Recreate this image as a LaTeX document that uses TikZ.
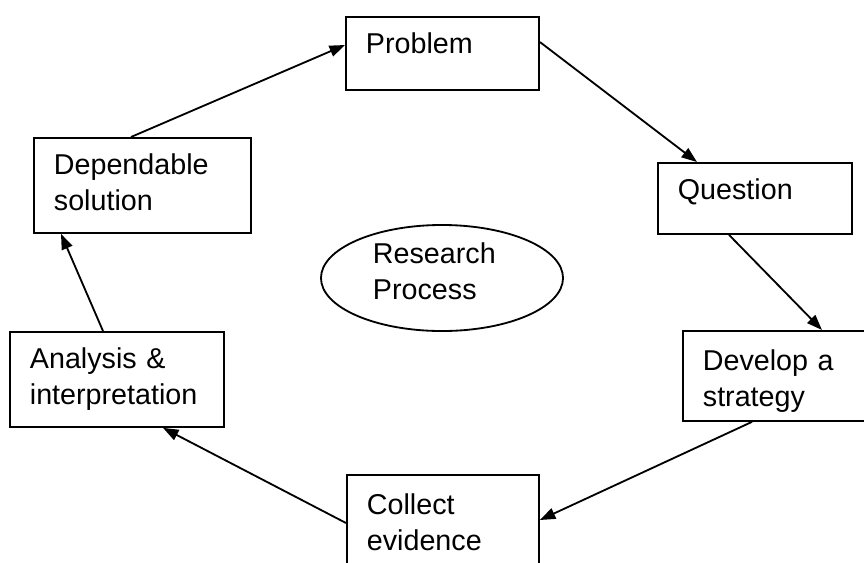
\documentclass[tikz,border=0pt]{standalone}
\usepackage{fontspec}
\setmainfont{Liberation Sans}
\usetikzlibrary{shapes.geometric, arrows.meta, calc}

\begin{document}
\begin{tikzpicture}[x=0.025cm, y=-0.025cm, >={Triangle[length=11pt,width=8pt]}]

        % Define block styles
        \tikzset{stage/.style 2 args={rectangle, draw, line width=1.3pt, anchor=north west, align=left, inner xsep=0.5cm, inner ysep=0pt, text width=#1, text height=0.925cm, text depth=#2, font=\fontsize{20.4}{25.6}\selectfont}}
        \tikzstyle{hub} = [ellipse, draw, line width=1.3pt, minimum width=6.05cm, minimum height=2.65cm, inner sep=0pt, align=left, text width=3.45cm, text height=0.5cm, text depth=1.25cm, font=\fontsize{20.4}{25.6}\selectfont]
        \tikzstyle{arrow} = [line width=1.3pt,->]

        \useasboundingbox (0,0) rectangle (864,562);
        \clip (0,0) rectangle (864,562);

        % Stages
        \node (prob) [stage={3.825cm}{0.9cm}] at (345,16) {Problem};
        \node (ques) [stage={3.85cm}{0.85cm}] at (657,162) {Question};
        \node (dev) [stage={3.6cm}{1.25cm}, text height=1cm] at (682,330) {Develop a\\strategy};
        \node (coll) [stage={3.8cm}{1.5cm}, text height=1cm] at (346,474) {Collect\\evidence};
        \node (ana) [stage={4.35cm}{1.45cm}] at (9,331) {Analysis \&\\interpretation};
        \node (dep) [stage={4.425cm}{1.45cm}] at (33,137) {Dependable\\solution};
        \node (rp) [hub] at (442,278) {Research\\Process};

        % Arrows
        \draw [arrow] ($(dep.north west)+(98,0)$) -- ($(prob.north west)+(0,29)$);
        \draw [arrow] ($(prob.north east)+(0,26)$) -- ($(ques.north west)+(40,0)$);
        \draw [arrow] ($(ques.south west)+(72,0)$) -- ($(dev.north west)+(140,0)$);
        \draw [arrow] ($(dev.south west)+(70,0)$) -- ($(coll.north east)+(0,46)$);
        \draw [arrow] ($(coll.north west)+(0,49)$) -- ($(ana.south west)+(154,0)$);
        \draw [arrow] ($(ana.north west)+(94,0)$) -- ($(dep.south west)+(28,0)$);

      \end{tikzpicture}
\end{document}
